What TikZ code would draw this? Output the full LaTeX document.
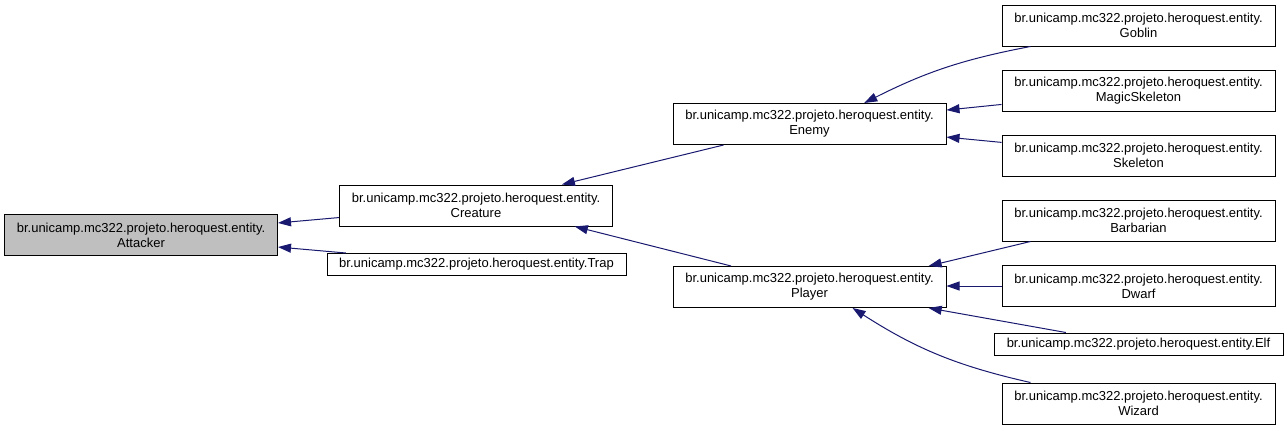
\documentclass[tikz,border=0pt]{standalone}
\usepackage{fontspec}
\setmainfont{Liberation Sans}
\usetikzlibrary{arrows.meta, positioning}
\definecolor{edgeblue}{HTML}{191970}
\definecolor{basegray}{HTML}{BFBFBF}

\begin{document}
\begin{tikzpicture}[x=1pt, y=-1pt, ->, >={Triangle[length=13pt, width=9pt]},
    entity/.style={draw, line width=1pt, align=center, inner sep=0pt,
        minimum width=273pt, minimum height=41pt, font=\fontsize{13}{15}\selectfont},
    single/.style={entity, minimum height=22pt},
    inh/.style={draw=edgeblue, line width=1pt}]
    \useasboundingbox (0,0) rectangle (1288,431);
    \node[entity, fill=basegray] (attacker) at (141,235) {br.unicamp.mc322.projeto.heroquest.entity.\\Attacker};
    \node[entity] (creature) at (476,205.5) {br.unicamp.mc322.projeto.heroquest.entity.\\Creature};
    \node[single, minimum width=299pt] (trap) at (476.5,264.5) {br.unicamp.mc322.projeto.heroquest.entity.Trap};
    \node[entity] (enemy) at (809.5,124) {br.unicamp.mc322.projeto.heroquest.entity.\\Enemy};
    \node[entity] (player) at (809.5,287) {br.unicamp.mc322.projeto.heroquest.entity.\\Player};
    % Enemy subclasses
    \node[entity] (goblin) at (1138.5,25.5) {br.unicamp.mc322.projeto.heroquest.entity.\\Goblin};
    \node[entity] (magicskeleton) at (1138.5,90.5) {br.unicamp.mc322.projeto.heroquest.entity.\\MagicSkeleton};
    \node[entity] (skeleton) at (1138.5,155.5) {br.unicamp.mc322.projeto.heroquest.entity.\\Skeleton};
    % Player subclasses
    \node[entity] (barbarian) at (1138.5,220.5) {br.unicamp.mc322.projeto.heroquest.entity.\\Barbarian};
    \node[entity] (dwarf) at (1138.5,286) {br.unicamp.mc322.projeto.heroquest.entity.\\Dwarf};
    \node[single, minimum width=289pt] (elf) at (1138.5,344) {br.unicamp.mc322.projeto.heroquest.entity.Elf};
    \node[entity] (wizard) at (1138.5,403.5) {br.unicamp.mc322.projeto.heroquest.entity.\\Wizard};
    \draw[inh] (creature) -- (attacker);
    \draw[inh] (trap) -- (attacker);
    \draw[inh] (enemy) -- (creature);
    \draw[inh] (player.165) -- (creature.-12);
    \draw[inh] (goblin.191) to[bend right=8] (enemy.21);
    \draw[inh] (magicskeleton) -- (enemy);
    \draw[inh] (skeleton) -- (enemy);
    \draw[inh] (barbarian.191) -- (player.10);
    \draw[inh] (dwarf.west) -- (dwarf.west -| player.east);
    \draw[inh] (elf.171) -- (player.-10);
    \draw[inh] (wizard.169) to[bend left=10] (player.-26);
\end{tikzpicture}
\end{document}
